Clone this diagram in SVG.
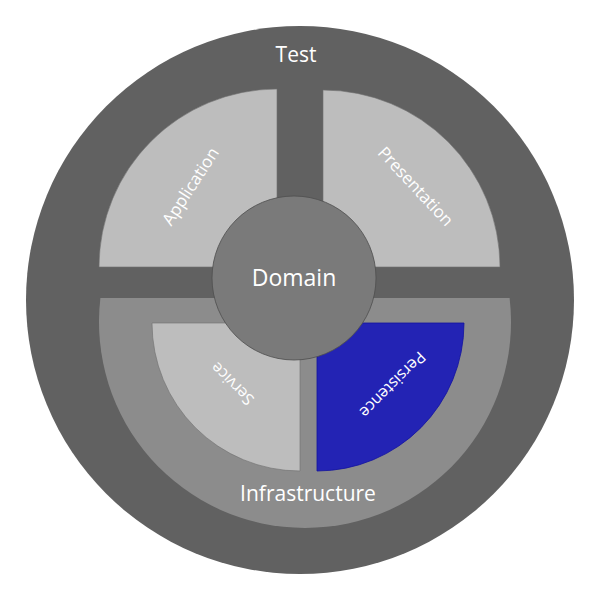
<svg xmlns="http://www.w3.org/2000/svg" width="600" height="600" viewBox="0 0 600 600">
  <style>
    .ring { fill: #616161; }
    .layer { fill: #bdbdbd; stroke: #6e6e6e; stroke-width: 0.6; }
    .infra { fill: #8c8c8c; }
    .core { fill: #7a7a7a; stroke: #4e4e4e; stroke-width: 0.8; }
    .active { fill: #2323b4; stroke: #1212a0; stroke-width: 0.8; }
    text { font-family: "Open Sans", "Noto Sans", sans-serif; fill: #ffffff; text-anchor: middle; dominant-baseline: central; }
    .big { font-size: 21px; }
    .core-label { font-size: 23px; }
    .mid { font-size: 17px; }
    .small { font-size: 16px; }
  </style>
  <rect width="600" height="600" fill="#ffffff"/>

  <g id="test">
    <circle class="ring" cx="300" cy="300" r="274"/>
    <text class="big" x="296" y="54">Test</text>
  </g>

  <g id="infrastructure">
    <path class="infra" d="M100.4,298 L509.6,298 A206,206 0 1 1 100.4,298 Z"/>
    <text class="big" x="308" y="493">Infrastructure</text>
  </g>

  <g id="application">
    <path class="layer" d="M277,89 A178,178 0 0 0 99,267 L277,267 Z"/>
    <text class="mid" transform="translate(190,186) rotate(-57)">Application</text>
  </g>

  <g id="presentation">
    <path class="layer" d="M323,90 A177,177 0 0 1 500,267 L323,267 Z"/>
    <text class="mid" transform="translate(416,186) rotate(47)">Presentation</text>
  </g>

  <g id="service">
    <path class="layer" d="M300,323 L152,323 A148,148 0 0 0 300,471 Z"/>
    <text class="small" transform="translate(232,384) rotate(-135)">Service</text>
  </g>

  <g id="persistence">
    <path class="active" d="M317,323 L464,323 A147,148 0 0 1 317,471 Z"/>
    <text class="small" transform="translate(393,385) rotate(135)">Persistence</text>
  </g>

  <g id="domain">
    <circle class="core" cx="294" cy="278" r="82"/>
    <text class="core-label" x="294" y="277">Domain</text>
  </g>

  <g id="connectors"/>
</svg>
